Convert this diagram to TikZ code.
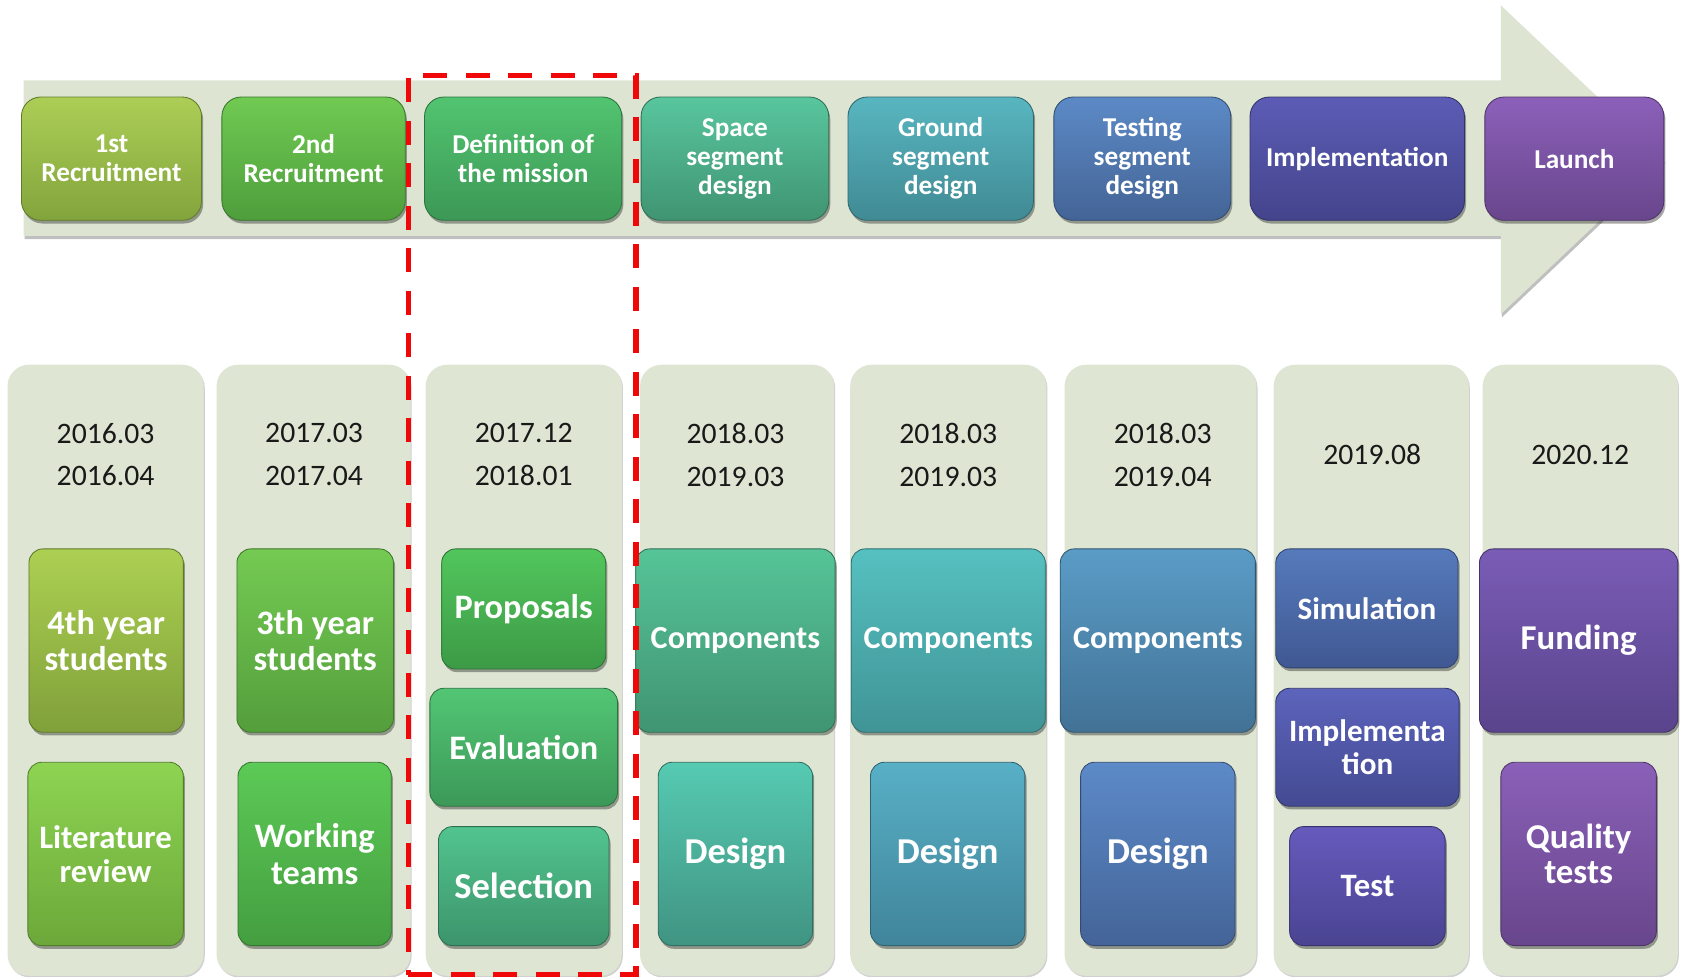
\documentclass[tikz,border=0pt]{standalone}
\usepackage{fontspec}
\setmainfont{Carlito}
\usetikzlibrary{shadows}
\definecolor{bandc}{RGB}{221,229,210}
\definecolor{panelc}{RGB}{222,230,211}
\definecolor{datec}{RGB}{25,25,25}
\definecolor{dashred}{RGB}{240,8,8}
% top row
\definecolor{aT}{RGB}{172,206,86}\definecolor{aB}{RGB}{130,164,60}
\definecolor{bT}{RGB}{112,202,82}\definecolor{bB}{RGB}{78,158,60}
\definecolor{cT}{RGB}{82,196,112}\definecolor{cB}{RGB}{60,152,86}
\definecolor{dT}{RGB}{88,198,158}\definecolor{dB}{RGB}{64,148,114}
\definecolor{eT}{RGB}{88,182,192}\definecolor{eB}{RGB}{64,138,148}
\definecolor{fT}{RGB}{92,138,198}\definecolor{fB}{RGB}{68,100,150}
\definecolor{gT}{RGB}{92,92,182}\definecolor{gB}{RGB}{68,68,140}
\definecolor{hT}{RGB}{140,96,186}\definecolor{hB}{RGB}{104,70,140}
% bottom boxes
\definecolor{q1T}{RGB}{172,208,82}\definecolor{q1B}{RGB}{128,160,58}
\definecolor{q2T}{RGB}{142,212,82}\definecolor{q2B}{RGB}{108,168,58}
\definecolor{q3T}{RGB}{116,202,82}\definecolor{q3B}{RGB}{84,158,60}
\definecolor{q4T}{RGB}{92,202,86}\definecolor{q4B}{RGB}{68,158,64}
\definecolor{q5T}{RGB}{82,198,92}\definecolor{q5B}{RGB}{60,154,70}
\definecolor{q6T}{RGB}{82,198,116}\definecolor{q6B}{RGB}{60,152,88}
\definecolor{q7T}{RGB}{82,196,142}\definecolor{q7B}{RGB}{60,148,108}
\definecolor{q8T}{RGB}{86,196,152}\definecolor{q8B}{RGB}{64,148,114}
\definecolor{q9T}{RGB}{86,202,178}\definecolor{q9B}{RGB}{64,148,130}
\definecolor{q10T}{RGB}{86,192,192}\definecolor{q10B}{RGB}{64,148,150}
\definecolor{q11T}{RGB}{88,176,198}\definecolor{q11B}{RGB}{64,132,154}
\definecolor{q12T}{RGB}{90,156,198}\definecolor{q12B}{RGB}{66,114,150}
\definecolor{q13T}{RGB}{92,138,200}\definecolor{q13B}{RGB}{68,100,152}
\definecolor{q14T}{RGB}{86,122,188}\definecolor{q14B}{RGB}{64,88,146}
\definecolor{q15T}{RGB}{92,100,188}\definecolor{q15B}{RGB}{68,74,146}
\definecolor{q16T}{RGB}{102,90,188}\definecolor{q16B}{RGB}{74,68,146}
\definecolor{q17T}{RGB}{122,92,182}\definecolor{q17B}{RGB}{90,68,140}
\definecolor{q18T}{RGB}{138,96,184}\definecolor{q18B}{RGB}{104,70,140}
\begin{document}
\begin{tikzpicture}[x=1pt,y=-1pt,
  sh/.style 2 args={top color=#1, bottom color=#2, draw=#2!75!black, line width=0.8pt},
  softshadow/.style={drop shadow={shadow xshift=1.5pt, shadow yshift=-3pt, opacity=0.35, fill=black}},
  boxbase/.style={rectangle, align=center, text=white, inner sep=0pt, softshadow},
  topbox/.style={boxbase, rounded corners=18pt, minimum height=115pt,
    font=\bfseries\fontsize{25.4}{27}\selectfont},
  lowbox/.style={boxbase, rounded corners=13pt},
  fz/.style 2 args={font=\bfseries\fontsize{#1}{#2}\selectfont},
  panel/.style={rectangle, rounded corners=20pt, fill=panelc, anchor=north,
    minimum height=570pt, inner sep=0pt,
    drop shadow={shadow xshift=1pt, shadow yshift=-1.5pt, opacity=0.18, fill=black}},
  datelabel/.style={align=center, text=datec, inner sep=0pt,
    font=\fontsize{27.7}{40}\selectfont},
  redframe/.style={draw=dashred, line width=4.7pt, dash pattern=on 22.4pt off 17.2pt}
]
\useasboundingbox (0,0) rectangle (1568,911);
\clip (0,0) rectangle (1568,911);

% ---- timeline arrow ----
\path[fill=bandc, drop shadow={shadow xshift=1pt, shadow yshift=-3pt, opacity=0.25, fill=black}]
  (22,75) -- (1400,75) -- (1400,5) -- (1552,149) -- (1400,293) -- (1400,220) -- (22,220) -- cycle;

% ---- phases ----
\node[topbox, minimum width=168pt, sh={aT}{aB}] (t1) at (104,148) {1st\\Recruitment};
\node[topbox, minimum width=171pt, sh={bT}{bB}] (t2) at (292.5,148) {2nd\\Recruitment};
\node[topbox, minimum width=184pt, sh={cT}{cB}] (t3) at (488,148) {Definition of\\the mission};
\node[topbox, minimum width=175pt, sh={dT}{dB}] (t4) at (685.5,148) {Space\\segment\\design};
\node[topbox, minimum width=173pt, sh={eT}{eB}] (t5) at (877.5,148) {Ground\\segment\\design};
\node[topbox, minimum width=165pt, sh={fT}{fB}] (t6) at (1065.5,148) {Testing\\segment\\design};
\node[topbox, minimum width=200pt, sh={gT}{gB}] (t7) at (1266,148) {Implementation};
\node[topbox, minimum width=167pt, sh={hT}{hB}] (t8) at (1468.5,148) {Launch};

% ---- panels ----
\node[panel, minimum width=183pt] (p1) at (98.5,340) {};
\node[panel, minimum width=181pt] (p2) at (292.5,340) {};
\node[panel, minimum width=183pt] (p3) at (488.5,340) {};
\node[panel, minimum width=181pt] (p4) at (687.5,340) {};
\node[panel, minimum width=183pt] (p5) at (884.5,340) {};
\node[panel, minimum width=179pt] (p6) at (1082.5,340) {};
\node[panel, minimum width=182pt] (p7) at (1279,340) {};
\node[panel, minimum width=182pt] (p8) at (1474,340) {};

% ---- dates ----
\node[datelabel] (d1) at (98.5,424) {2016.03\\2016.04};
\node[datelabel] (d2) at (293,424) {2017.03\\2017.04};
\node[datelabel] (d3) at (488.5,424) {2017.12\\2018.01};
\node[datelabel] (d4) at (686,424) {2018.03\\2019.03};
\node[datelabel] (d5) at (884.5,424) {2018.03\\2019.03};
\node[datelabel] (d6) at (1084.5,424) {2018.03\\2019.04};
\node[datelabel] (d7) at (1280,424) {2019.08};
\node[datelabel] (d8) at (1474,424) {2020.12};

% ---- tasks ----
\node[lowbox, minimum width=144pt, minimum height=171pt, sh={q1T}{q1B}, fz={32}{33}] (b1a) at (99,597.5) {4th year\\students};
\node[lowbox, minimum width=145pt, minimum height=171pt, sh={q2T}{q2B}, fz={30.5}{32}] (b1b) at (98.5,796.5) {Literature\\review};
\node[lowbox, minimum width=146pt, minimum height=171pt, sh={q3T}{q3B}, fz={32}{33}] (b2a) at (294,597.5) {3th year\\students};
\node[lowbox, minimum width=143pt, minimum height=171pt, sh={q4T}{q4B}, fz={32}{34}] (b2b) at (293.5,796.5) {Working\\teams};

\node[lowbox, minimum width=153pt, minimum height=112pt, sh={q5T}{q5B}, fz={32}{33}] (b3a) at (488.5,568) {Proposals};
\node[lowbox, minimum width=175pt, minimum height=110pt, sh={q6T}{q6B}, fz={32}{33}] (b3b) at (488.5,697) {Evaluation};
\node[lowbox, minimum width=159pt, minimum height=111pt, sh={q7T}{q7B}, fz={34}{35}] (b3c) at (488.5,826.5) {Selection};

\node[lowbox, minimum width=186pt, minimum height=171pt, sh={q8T}{q8B}, fz={30}{32}] (b4a) at (686,597.5) {Components};
\node[lowbox, minimum width=144pt, minimum height=171pt, sh={q9T}{q9B}, fz={34}{35}] (b4b) at (686,796.5) {Design};
\node[lowbox, minimum width=181pt, minimum height=171pt, sh={q10T}{q10B}, fz={30}{32}] (b5a) at (884.5,597.5) {Components};
\node[lowbox, minimum width=144pt, minimum height=171pt, sh={q11T}{q11B}, fz={34}{35}] (b5b) at (884,796.5) {Design};
\node[lowbox, minimum width=182pt, minimum height=171pt, sh={q12T}{q12B}, fz={30}{32}] (b6a) at (1080,597.5) {Components};
\node[lowbox, minimum width=144pt, minimum height=171pt, sh={q13T}{q13B}, fz={34}{35}] (b6b) at (1080,796.5) {Design};

\node[lowbox, minimum width=170pt, minimum height=111pt, sh={q14T}{q14B}, fz={29}{30}] (b7a) at (1275,567.5) {Simulation};
\node[lowbox, minimum width=171pt, minimum height=110pt, sh={q15T}{q15B}, fz={29}{30}] (b7b) at (1275.5,697) {Implementa\\tion};
\node[lowbox, minimum width=145pt, minimum height=111pt, sh={q16T}{q16B}, fz={30.5}{32}] (b7c) at (1275.5,826.5) {Test};

\node[lowbox, minimum width=185pt, minimum height=171pt, sh={q17T}{q17B}, fz={32.5}{34}] (b8a) at (1472.5,597.5) {Funding};
\node[lowbox, minimum width=145pt, minimum height=171pt, sh={q18T}{q18B}, fz={32.5}{33}] (b8b) at (1472.5,796.5) {Quality\\tests};

% ---- highlighted phase ----
\node[redframe, rectangle, inner sep=0pt, minimum width=212.5pt, minimum height=839pt] (hl) at (487,489.5) {};
\end{tikzpicture}
\end{document}
